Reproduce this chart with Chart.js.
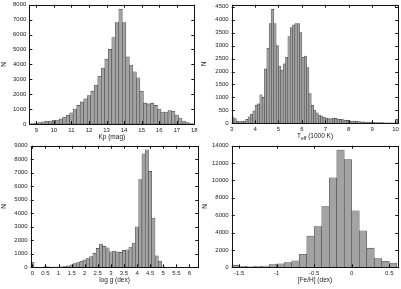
<!DOCTYPE html>
<html>
<head>
<meta charset="utf-8">
<script src="https://cdn.jsdelivr.net/npm/chart.js@4.4.0/dist/chart.umd.min.js"></script>
<style>
  body { margin: 0; background: #fff; }
  #wrap { position: relative; width: 401px; height: 289px; }
  canvas { position: absolute; }
</style>
</head>
<body>
<div id="wrap">
  <canvas id="kpChart" width="200" height="144" style="left:0px;top:0px"></canvas>
  <canvas id="teffChart" width="201" height="144" style="left:200px;top:0px"></canvas>
  <canvas id="loggChart" width="200" height="149" style="left:0px;top:140px"></canvas>
  <canvas id="fehChart" width="201" height="149" style="left:200px;top:140px"></canvas>
</div>
<script>
// bin centres and counts
var kpBins = [8.8, 9.0, 9.2, 9.4, 9.6, 9.8, 10.0, 10.2, 10.4, 10.6, 10.8, 11.0, 11.2, 11.4, 11.6, 11.8,
  12.0, 12.2, 12.4, 12.6, 12.8, 13.0, 13.2, 13.4, 13.6, 13.8, 14.0, 14.2, 14.4, 14.6, 14.8,
  15.0, 15.2, 15.4, 15.6, 15.8, 16.0, 16.2, 16.4, 16.6, 16.8, 17.0, 17.2, 17.4, 17.6, 17.8]
var kpCounts = [40, 70, 100, 150, 180, 200, 250, 270, 340, 450, 580, 750, 1000, 1250, 1480, 1680,
  1900, 2200, 2600, 3200, 3750, 4350, 5000, 5800, 6800, 7700, 6800, 4500, 3950, 3500, 3100,
  2200, 1400, 1350, 1400, 1250, 1000, 800, 800, 900, 850, 600, 400, 200, 100, 50]

var teffBins = [3.05, 3.15, 3.25, 3.35, 3.45, 3.55, 3.65, 3.75, 3.85, 3.95,
  4.05, 4.15, 4.25, 4.35, 4.45, 4.55, 4.65, 4.75, 4.85, 4.95,
  5.05, 5.15, 5.25, 5.35, 5.45, 5.55, 5.65, 5.75, 5.85, 5.95,
  6.05, 6.15, 6.25, 6.35, 6.45, 6.55, 6.65, 6.75, 6.85, 6.95,
  7.05, 7.15, 7.25, 7.35, 7.45, 7.55, 7.65, 7.75, 7.85, 7.95,
  8.05, 8.15, 8.25, 8.35, 8.45, 8.55, 8.65, 8.75, 8.85, 8.95,
  9.05, 9.15, 9.25, 9.35, 9.45, 9.55, 9.65, 9.75, 9.85, 9.95, 10.05]
var teffCounts = [250, 180, 80, 70, 80, 90, 150, 250, 350, 480,
  700, 750, 1100, 1000, 2100, 2900, 3850, 4400, 3850, 3000,
  2200, 2050, 2300, 2550, 3350, 3700, 3800, 3850, 3850, 3500,
  2550, 2600, 2150, 1150, 700, 500, 400, 320, 280, 230,
  200, 180, 170, 200, 190, 160, 150, 140, 120, 110,
  100, 90, 85, 80, 70, 60, 55, 50, 45, 40,
  35, 30, 30, 25, 25, 20, 20, 20, 15, 15, 150]

var loggBins = [0, 0.125, 0.25, 0.375, 0.5, 0.625, 0.75, 0.875, 1.0, 1.125, 1.25, 1.375,
  1.5, 1.625, 1.75, 1.875, 2.0, 2.125, 2.25, 2.375, 2.5, 2.625, 2.75, 2.875,
  3.0, 3.125, 3.25, 3.375, 3.5, 3.625, 3.75, 3.875, 4.0, 4.125, 4.25, 4.375,
  4.5, 4.625, 4.75, 4.875, 5.0, 5.125, 5.25, 5.375, 5.5, 5.625, 5.75, 5.875,
  6.0, 6.125, 6.25]
var loggCounts = [370, 0, 0, 0, 60, 40, 10, 10, 20, 40, 70, 100,
  180, 270, 350, 450, 550, 650, 800, 1050, 1400, 1720, 1550, 1450,
  1150, 1200, 1150, 1100, 1250, 1300, 1500, 1800, 3000, 6500, 8400, 8700,
  7100, 3650, 850, 450, 40, 0, 0, 0, 0, 0, 0, 0,
  0, 0, 0]

var fehBins = [-1.55, -1.45, -1.35, -1.25, -1.15, -1.05, -0.95, -0.85, -0.75, -0.65, -0.55,
  -0.45, -0.35, -0.25, -0.15, -0.05, 0.05, 0.15, 0.25, 0.35, 0.45, 0.55]
var fehCounts = [250, 100, 80, 100, 150, 300, 400, 550, 750, 1500, 3600,
  4700, 7000, 10300, 13500, 12400, 6500, 4200, 2200, 1000, 700, 500]

// tick labels
var kpTicks = [9, 10, 11, 12, 13, 14, 15, 16, 17, 18]
var kpYTicks = [0, 1000, 2000, 3000, 4000, 5000, 6000, 7000, 8000]
var teffTicks = [3, 4, 5, 6, 7, 8, 9, 10]
var teffYTicks = [0, 500, 1000, 1500, 2000, 2500, 3000, 3500, 4000, 4500]
var loggTicks = [0, 0.5, 1, 1.5, 2, 2.5, 3, 3.5, 4, 4.5, 5, 5.5, 6]
var loggYTicks = [0, 1000, 2000, 3000, 4000, 5000, 6000, 7000, 8000, 9000]
var fehTicks = [-1.5, -1, -0.5, 0, 0.5]
var fehYTicks = [0, 2000, 4000, 6000, 8000, 10000, 12000, 14000]

var FONT = '"Liberation Sans", Arial, sans-serif'

var framePlugin = {
  id: 'frame',
  afterDraw: function(chart) {
    var ctx = chart.ctx
    var a = chart.chartArea
    var xs = chart.scales.x, ys = chart.scales.y
    ctx.save()
    ctx.strokeStyle = '#111'
    ctx.lineWidth = 1
    ctx.strokeRect(Math.round(a.left) + 0.5, Math.round(a.top) + 0.5,
      Math.round(a.right) - Math.round(a.left), Math.round(a.bottom) - Math.round(a.top))
    ctx.beginPath()
    xs.ticks.forEach(function(t) {
      var px = Math.round(xs.getPixelForValue(t.value)) + 0.5
      ctx.moveTo(px, a.bottom); ctx.lineTo(px, a.bottom - 3)
      ctx.moveTo(px, a.top); ctx.lineTo(px, a.top + 3)
    })
    ys.ticks.forEach(function(t) {
      var py = Math.round(ys.getPixelForValue(t.value)) + 0.5
      ctx.moveTo(a.left, py); ctx.lineTo(a.left + 3, py)
      ctx.moveTo(a.right, py); ctx.lineTo(a.right - 3, py)
    })
    ctx.stroke()

    // axis titles
    var o = chart.options.plugins.frame
    ctx.fillStyle = '#222'
    ctx.textBaseline = 'middle'
    var cx = (a.left + a.right) / 2
    var ty = a.bottom + 13
    var parts = o.xTitle
    var w = 0
    parts.forEach(function(p) {
      ctx.font = (p.sub ? '5px ' : '6.5px ') + FONT
      w += ctx.measureText(p.text).width
    })
    var x = cx - w / 2
    ctx.textAlign = 'left'
    parts.forEach(function(p) {
      ctx.font = (p.sub ? '5px ' : '6.5px ') + FONT
      ctx.fillText(p.text, x, ty + (p.sub ? 2 : 0))
      x += ctx.measureText(p.text).width
    })
    ctx.font = '6.5px ' + FONT
    ctx.translate(o.yTitleX, (a.top + a.bottom) / 2)
    ctx.rotate(-Math.PI / 2)
    ctx.textAlign = 'center'
    ctx.fillText('N', 0, 0)
    ctx.restore()
  }
}

function makeHist(id, bins, counts, xTicks, yTicks, xMin, xMax, yMax, xTitle, box) {
  var canvas = document.getElementById(id)
  var W = canvas.width, H = canvas.height
  var pts = bins.map(function(b, i) { return { x: b, y: counts[i] } })
  return new Chart(canvas, {
    type: 'bar',
    data: {
      datasets: [{
        data: pts,
        backgroundColor: '#a3a3a3',
        borderColor: '#4a4a4a',
        borderWidth: 0.6,
        borderSkipped: false,
        barPercentage: 1,
        categoryPercentage: 1,
        grouped: false
      }]
    },
    options: {
      responsive: false,
      animation: false,
      devicePixelRatio: 1,
      layout: { padding: { left: 0, right: W - box.r, top: box.t, bottom: 0 } },
      plugins: {
        legend: { display: false },
        tooltip: { enabled: false },
        frame: { xTitle: xTitle, yTitleX: box.n }
      },
      scales: {
        x: {
          type: 'linear',
          offset: false,
          min: xMin,
          max: xMax,
          grid: { display: false, drawTicks: false },
          border: { display: false },
          ticks: {
            autoSkip: false, maxRotation: 0, padding: 2.5, color: '#222',
            font: { size: 6, family: FONT },
            callback: function(v) { return String(v) }
          },
          afterBuildTicks: function(s) { s.ticks = xTicks.map(function(v) { return { value: v } }) },
          afterFit: function(s) { s.height = H - box.b; s.paddingLeft = 0; s.paddingRight = 0 }
        },
        y: {
          min: 0,
          max: yMax,
          grid: { display: false, drawTicks: false },
          border: { display: false },
          ticks: {
            autoSkip: false, padding: 3, color: '#222',
            font: { size: 6, family: FONT },
            callback: function(v) { return String(v) }
          },
          afterBuildTicks: function(s) { s.ticks = yTicks.map(function(v) { return { value: v } }) },
          afterFit: function(s) { s.width = box.l; s.paddingTop = 0; s.paddingBottom = 0 }
        }
      }
    },
    plugins: [framePlugin]
  })
}

makeHist('kpChart', kpBins, kpCounts, kpTicks, kpYTicks, 8.6, 18, 8000,
  [{ text: 'Kp (mag)' }], { l: 29.3, r: 194.3, t: 4.7, b: 124, n: 4 })
makeHist('teffChart', teffBins, teffCounts, teffTicks, teffYTicks, 3, 10.12, 4580,
  [{ text: 'T' }, { text: 'eff', sub: true }, { text: ' (1000 K)' }], { l: 31.7, r: 198.3, t: 4.7, b: 123.3, n: 4.5 })
makeHist('loggChart', loggBins, loggCounts, loggTicks, loggYTicks, -0.0625, 6.34, 9000,
  [{ text: 'log g (dex)' }], { l: 30.7, r: 198.3, t: 5.7, b: 127.3, n: 4.5 })
makeHist('fehChart', fehBins, fehCounts, fehTicks, fehYTicks, -1.6, 0.62, 14000,
  [{ text: '[Fe/H] (dex)' }], { l: 31.7, r: 198.3, t: 5.7, b: 127.3, n: 5 })
</script>
</body>
</html>
